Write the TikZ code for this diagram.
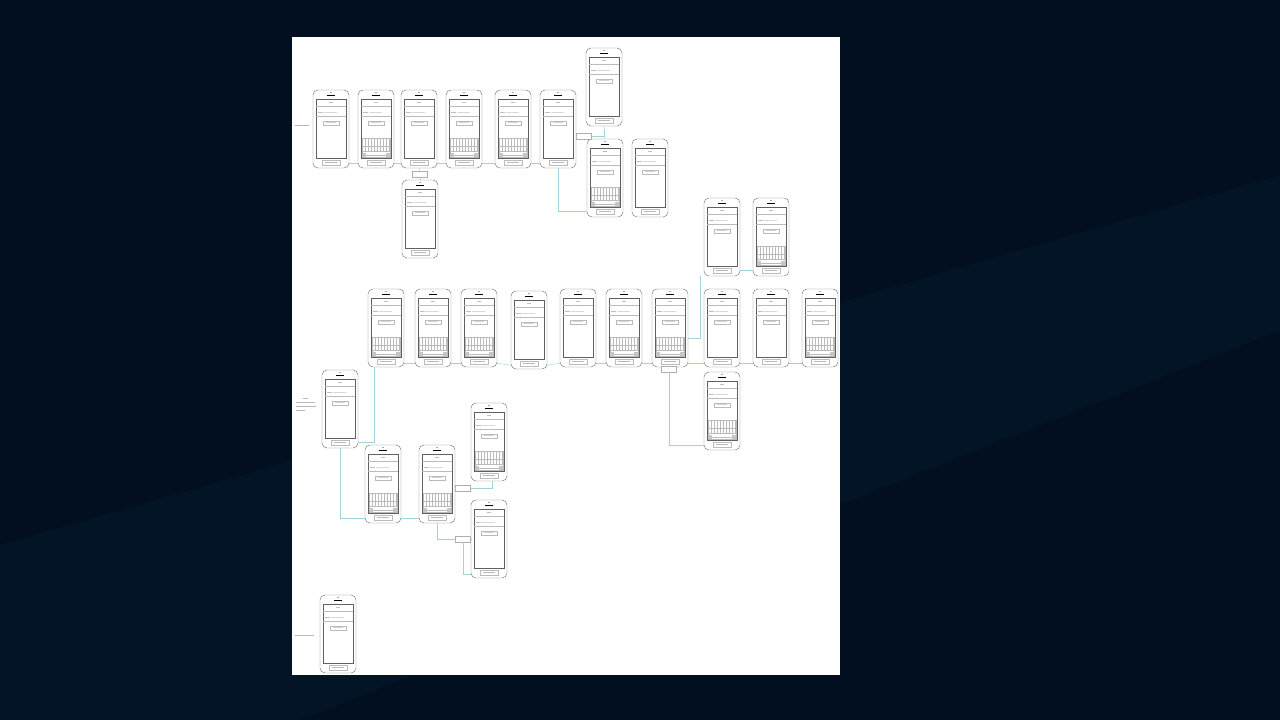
\documentclass[tikz,border=0pt]{standalone}
\usepackage{tikz}
\usetikzlibrary{positioning}

\definecolor{bgnavy}{RGB}{1,15,32}
\definecolor{bgband}{RGB}{3,20,39}
\definecolor{linkcol}{RGB}{160,212,218}
\definecolor{wire}{RGB}{120,120,120}

\tikzset{
  phone/.style={draw=wire, line width=0.45pt, fill=white, rectangle, rounded corners=5pt,
    minimum width=36pt, minimum height=78pt, inner sep=0pt},
  scr/.style={draw=wire!80!black, line width=0.45pt},
  fine/.style={draw=wire!50, line width=0.25pt},
  txt/.style={fill=gray!50},
  conn/.style={draw=linkcol, line width=0.45pt},
  tag/.style={draw=wire!60, line width=0.3pt, fill=white, minimum width=15pt, minimum height=6pt, inner sep=0pt},
}

% phone wireframe: name, centre x, centre y, keyboard (1/0)
\newcommand{\phone}[4]{%
  \node[phone] (#1) at (#2,#3) {};
  \draw[scr] ([shift={(3,9)}]#1.north west) rectangle ([shift={(-3,-10)}]#1.south east);
  \fill[gray!70] ([shift={(-0.8,2)}]#1.north) rectangle ([shift={(0.8,3.6)}]#1.north);
  \draw[line width=0.6pt] ([shift={(-4,5.5)}]#1.north) -- ([shift={(4,5.5)}]#1.north);
  \draw[fine] ([shift={(3,16)}]#1.north west) -- ([shift={(-3,16)}]#1.north east);
  \fill[txt] ([shift={(-2,11.8)}]#1.north) rectangle ([shift={(2,12.8)}]#1.north);
  \fill[txt] ([shift={(5,22)}]#1.north west) rectangle ([shift={(10,23)}]#1.north west);
  \fill[gray!30] ([shift={(11,22)}]#1.north west) rectangle ([shift={(24,23)}]#1.north west);
  \draw[fine] ([shift={(3,26)}]#1.north west) -- ([shift={(-3,26)}]#1.north east);
  \draw[fine] ([shift={(-8,31)}]#1.north) rectangle ([shift={(8,35)}]#1.north);
  \fill[gray!35] ([shift={(-5,32.6)}]#1.north) rectangle ([shift={(5,33.4)}]#1.north);
  \draw[fine] ([shift={(-9,-8)}]#1.south) rectangle ([shift={(9,-3)}]#1.south);
  \fill[gray!55] ([shift={(-6,-6)}]#1.south) rectangle ([shift={(6,-5)}]#1.south);
  \ifnum#4=1
    \draw[fine] ([shift={(4,-30)}]#1.south west) rectangle ([shift={(-4,-11)}]#1.south east);
    \foreach \k in {-22,-17,-13} {
      \draw[fine] ([shift={(4,\k)}]#1.south west) -- ([shift={(-4,\k)}]#1.south east);
    }
    \foreach \j in {7,10,13,16,19,22,25,28,31} {
      \draw[fine] ([shift={(\j,-30)}]#1.south west) -- ([shift={(\j,-17)}]#1.south west);
    }
    \fill[gray!45] ([shift={(4,-15)}]#1.south west) rectangle ([shift={(8,-11)}]#1.south west);
    \fill[gray!45] ([shift={(-8,-15)}]#1.south east) rectangle ([shift={(-4,-11)}]#1.south east);
  \fi
}

\begin{document}
\begin{tikzpicture}[x=1pt, y=-1pt]
  \useasboundingbox (0,0) rectangle (1280,720);
  % backdrop
  \fill[bgnavy] (0,0) rectangle (1280,720);
  \fill[bgband] (0,545) -- (1280,175) -- (1280,330) -- (300,720) -- (0,720) -- cycle;
  \fill[white] (292,37) rectangle (840,675);

  % section labels
  \fill[gray!55] (295,124.5) rectangle (309,125.5);
  \fill[gray!55] (303,397.5) rectangle (308,398.5);
  \fill[gray!55] (296,401.5) rectangle (315,402.5);
  \fill[gray!55] (296,405.5) rectangle (316,406.5);
  \fill[gray!55] (296,409.5) rectangle (305,410.5);
  \fill[gray!55] (295,634.5) rectangle (314,635.5);

  % first flow
  \phone{p1}{331}{129}{0}
  \phone{p2}{376}{129}{1}
  \phone{p3}{419}{129}{0}
  \phone{p4}{464}{129}{1}
  \phone{p5}{513}{129}{1}
  \phone{p6}{558}{129}{0}
  \phone{q1}{604}{87}{0}
  \phone{q2}{605}{178}{1}
  \phone{q3}{650}{178}{0}
  \phone{p7}{420}{219}{0}

  % second flow
  \phone{u1}{722}{237}{0}
  \phone{u2}{771}{237}{1}
  \phone{r1}{386}{328}{1}
  \phone{r2}{433}{328}{1}
  \phone{r3}{479}{328}{1}
  \phone{r4}{529}{330}{0}
  \phone{r5}{578}{328}{0}
  \phone{r6}{624}{328}{1}
  \phone{r7}{670}{328}{1}
  \phone{r8}{722}{328}{0}
  \phone{r9}{771}{328}{0}
  \phone{r10}{820}{328}{1}
  \phone{r11}{722}{411}{1}
  \phone{l1}{340}{409}{0}
  \phone{s1}{383}{484}{1}
  \phone{s2}{437}{484}{1}
  \phone{s3}{489}{442}{1}
  \phone{s4}{489}{539}{0}

  % third flow
  \phone{b1}{338}{634}{0}

  % tags on links
  \node[tag] (t1) at (420,174) {};
  \node[tag] (t2) at (584,136) {};
  \node[tag] (t3) at (669,369) {};
  \node[tag] (t4) at (463,488) {};
  \node[tag] (t5) at (463,539) {};

  % links
  \foreach \a/\b in {p1/p2,p2/p3,p3/p4,p4/p5,p5/p6}
    \draw[conn] ([yshift=5]\a.south east) -- ([yshift=5]\b.south west);
  \draw[conn] (p3.south) -- (t1.north);
  \draw[conn] (t1.south) -- (p7.north);
  \draw[conn] (p6.east |- t2) -- (t2.west);
  \draw[conn] (t2.east) -| ([yshift=-3]q1.south);
  \draw[conn] (q1.south) -- (q2.north);
  \draw[conn] (p6.south) |- ([yshift=6]q2.south west);

  \draw[conn] ([yshift=6]u1.south east) -- ([yshift=6]u2.south west);
  \draw[conn] ([yshift=-10]r7.east) -| ([xshift=-4]u1.south west);
  \foreach \a/\b in {r1/r2,r2/r3,r3/r4,r4/r5,r5/r6,r6/r7,r7/r8,r8/r9,r9/r10}
    \draw[conn] ([yshift=4]\a.south east) -- ([yshift=4]\b.south west);
  \draw[conn] (r7.south) -- (t3.north);
  \draw[conn] (t3.south) |- ([yshift=5]r11.south west);

  \draw[conn] ([yshift=6]l1.south east) -| ([xshift=-12]r1.south);
  \draw[conn] (l1.south) |- ([yshift=5]s1.south west);
  \draw[conn] ([yshift=5]s1.south east) -- ([yshift=5]s2.south west);
  \draw[conn] (s2.east |- t4) -- (t4.west);
  \draw[conn] (t4.east) -| ([xshift=3]s3.south);
  \draw[conn] (s2.south) |- (t5.west);
  \draw[conn] (t5.east) -- (t5.east -| s4.west);
  \draw[conn] (t5.south) |- ([yshift=4]s4.south west);
\end{tikzpicture}
\end{document}
